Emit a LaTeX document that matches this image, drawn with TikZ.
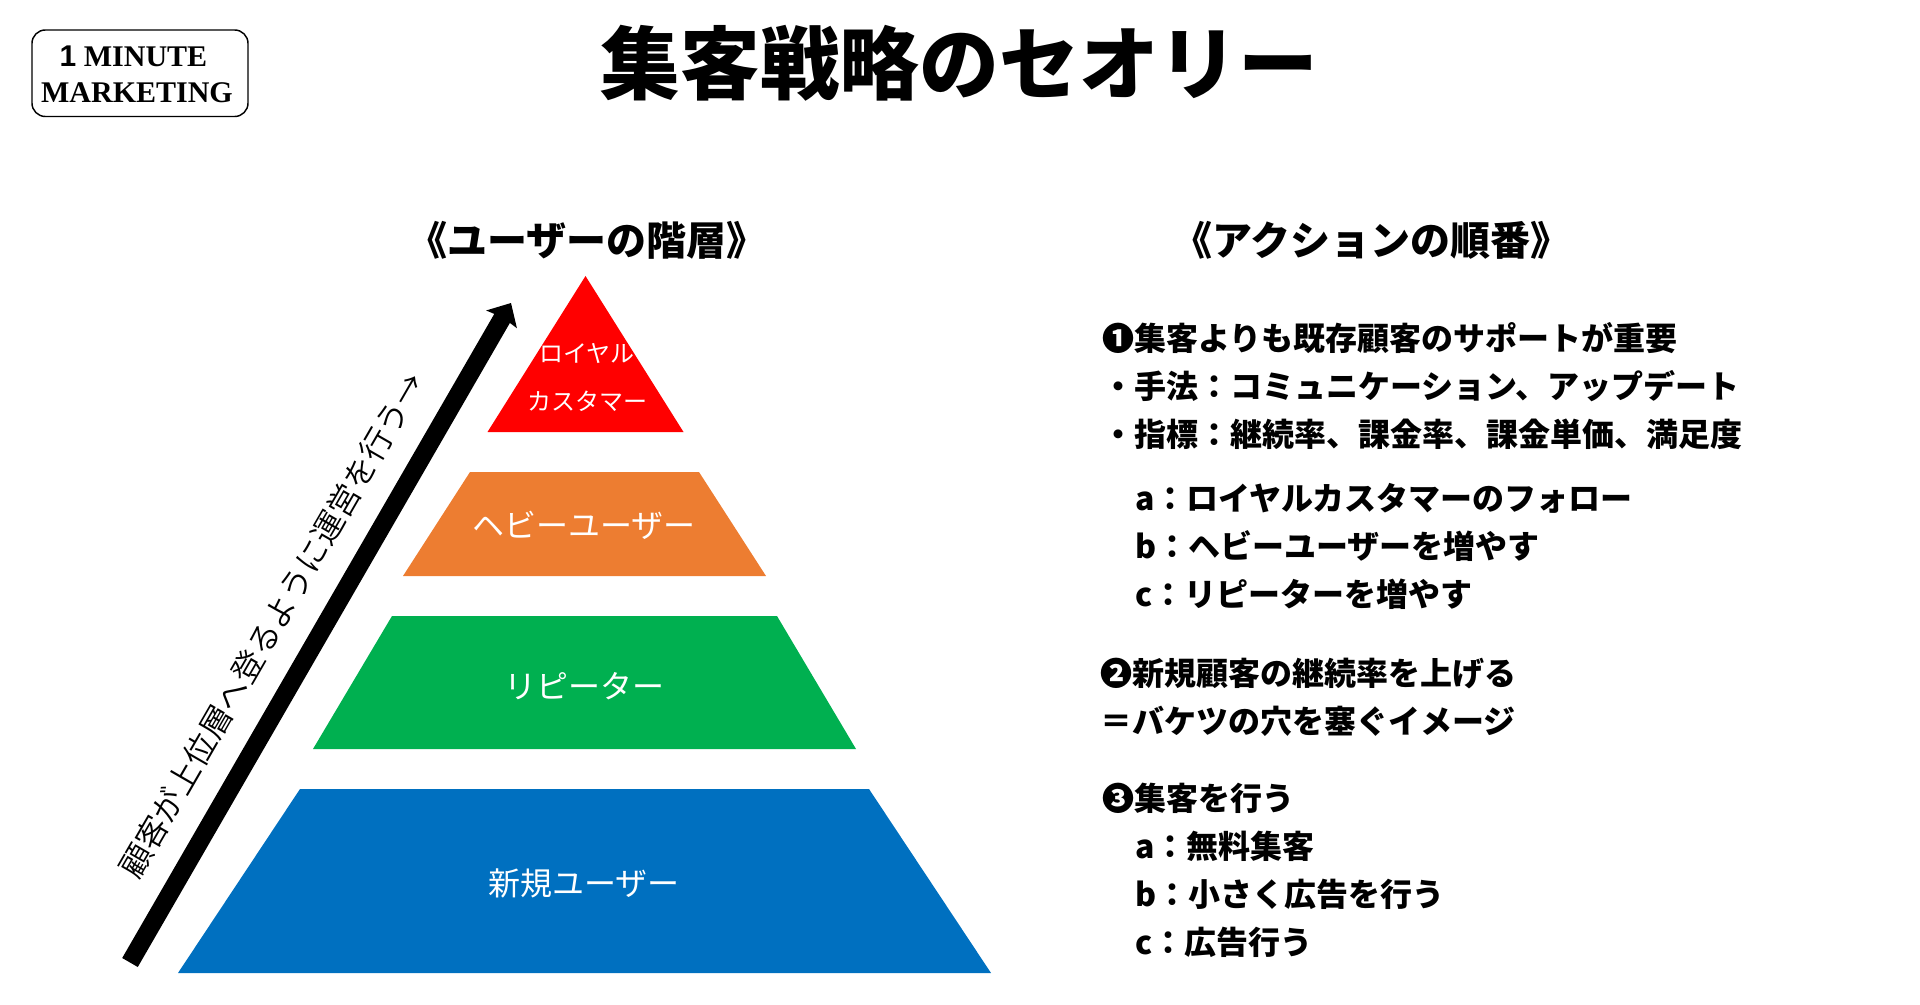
\documentclass[tikz,border=0pt]{standalone}
\usepackage{fontspec}
\usetikzlibrary{arrows.meta}
\newfontfamily\jpf{Noto Sans CJK JP}
\newfontfamily\jpl{Noto Sans CJK JP DemiLight}
\newfontfamily\logof{Liberation Serif}
\newfontfamily\logos{Liberation Sans}
\definecolor{cred}{HTML}{FF0000}
\definecolor{corange}{HTML}{ED7D31}
\definecolor{cgreen}{HTML}{00B050}
\definecolor{cblue}{HTML}{0070C0}
\tikzset{
  titletxt/.style={inner sep=0pt,anchor=base,font=\jpf\bfseries\fontsize{59.8}{70}\selectfont},
  headtxt/.style={inner sep=0pt,anchor=base,font=\jpf\bfseries\fontsize{30}{36}\selectfont},
  bodytxt/.style={inner sep=0pt,anchor=base west,font=\jpf\bfseries\fontsize{24}{30}\selectfont},
  tierbig/.style={inner sep=0pt,anchor=base,text=white,font=\jpf\fontsize{24}{30}\selectfont},
  tiersmall/.style={inner sep=0pt,anchor=base,text=white,font=\jpf\fontsize{18}{24}\selectfont},
  logotxt/.style={inner sep=0pt,anchor=base,font=\logof\bfseries\fontsize{22.5}{26}\selectfont},
  risetxt/.style={inner sep=0pt,anchor=center,rotate=60,font=\jpl\fontsize{24}{30}\selectfont},
}
\begin{document}
\begin{tikzpicture}[x=0.75pt,y=-0.75pt]
\useasboundingbox (0,0) rectangle (1920,1005);
% logo
\draw[line width=1.1pt,rounded corners=10pt] (32,30) rectangle (248,116.5);
\node[logotxt] (logoa) at (133.5,66.5) {{\logos\bfseries 1} MINUTE};
\node[logotxt] (logob) at (137,103) {MARKETING};
% title
\node[titletxt] (title) at (959.5,94) {集客戦略のセオリー};
\node[headtxt] (headl) at (587,256) {《ユーザーの階層》};
\node[headtxt] (headr) at (1371,256) {《アクションの順番》};
% pyramid
\fill[cred] (585.5,276) -- (683.5,432) -- (487.5,432) -- cycle;
\fill[corange] (470,472) -- (699,472) -- (766,576) -- (403,576) -- cycle;
\fill[cgreen] (392,616) -- (777,616) -- (856,749) -- (313,749) -- cycle;
\fill[cblue] (300,789) -- (869,789) -- (991,973) -- (178,973) -- cycle;
\node[tiersmall] (t1a) at (587,363) {ロイヤル};
\node[tiersmall] (t1b) at (587,411) {カスタマー};
\node[tierbig] (t2) at (584,537) {ヘビーユーザー};
\node[tierbig] (t3) at (584,698) {リピーター};
\node[tierbig] (t4) at (584,895) {新規ユーザー};
% arrow
\coordinate (atail) at (130,962.5);
\coordinate (ahead) at (511,303);
\draw[line width=13.5pt,-{Stealth[width=26pt,length=14pt,inset=1.5pt]}] (atail) -- (ahead);
\node[risetxt] (rise) at (272,625) {顧客が上位層へ登るように運営を行う→};
% right text
\node[bodytxt] (b1) at (1102,351) {❶集客よりも既存顧客のサポートが重要};
\node[bodytxt] (b2) at (1102,398) {・手法：コミュニケーション、アップデート};
\node[bodytxt] (b3) at (1102,446) {・指標：継続率、課金率、課金単価、満足度};
\node[bodytxt] (b4) at (1135,510) {a：ロイヤルカスタマーのフォロー};
\node[bodytxt] (b5) at (1135,558) {b：ヘビーユーザーを増やす};
\node[bodytxt] (b6) at (1135,606) {c：リピーターを増やす};
\node[bodytxt] (b7) at (1100,685) {❷新規顧客の継続率を上げる};
\node[bodytxt] (b8) at (1100,733) {＝バケツの穴を塞ぐイメージ};
\node[bodytxt] (b9) at (1102,810) {❸集客を行う};
\node[bodytxt] (b10) at (1135,858) {a：無料集客};
\node[bodytxt] (b11) at (1135,906) {b：小さく広告を行う};
\node[bodytxt] (b12) at (1135,954) {c：広告行う};
\end{tikzpicture}
\end{document}
